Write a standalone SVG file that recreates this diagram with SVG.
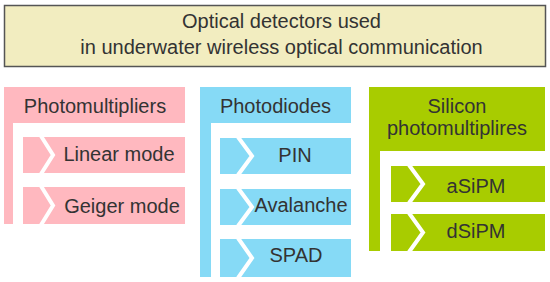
<svg xmlns="http://www.w3.org/2000/svg" width="550" height="282" viewBox="0 0 550 282">
<style>
text{font-family:"Liberation Sans",Arial,sans-serif;font-size:20px;fill:#333;text-anchor:middle}
.pk{fill:#ffb8bf}.bl{fill:#86daf6}.gr{fill:#a8cc00}
.chev{fill:none;stroke:#fff;stroke-width:4}
</style>
<rect width="550" height="282" fill="#fff"/>
<g id="title">
<rect x="4.5" y="5.5" width="541" height="61" fill="#f2edc0" stroke="#555" stroke-width="1.5"/>
<text x="281.5" y="28">Optical detectors used</text>
<text x="281.5" y="53.5">in underwater wireless optical communication</text>
</g>
<g id="photomultipliers">
<path class="pk" d="M4,87H185V123H13V224H4Z"/>
<text x="95" y="113">Photomultipliers</text>
</g>
<g id="linear-mode">
<rect class="pk" x="23" y="137" width="162" height="36"/>
<polyline class="chev" points="41,136 53,155 41,174"/>
<text x="119" y="161">Linear mode</text>
</g>
<g id="geiger-mode">
<rect class="pk" x="23" y="187" width="162" height="37"/>
<polyline class="chev" points="41,186 53,205.5 41,225"/>
<text x="122" y="213">Geiger mode</text>
</g>
<g id="photodiodes">
<path class="bl" d="M200,87H351V123H211V277H200Z"/>
<text x="275.5" y="113">Photodiodes</text>
</g>
<g id="pin">
<rect class="bl" x="220" y="138" width="131" height="36"/>
<polyline class="chev" points="238,137 252,156 238,175"/>
<text x="295" y="162">PIN</text>
</g>
<g id="avalanche">
<rect class="bl" x="220" y="189" width="131" height="36"/>
<polyline class="chev" points="238,188 252,207 238,226"/>
<text x="301" y="212">Avalanche</text>
</g>
<g id="spad">
<rect class="bl" x="220" y="239" width="131" height="38"/>
<polyline class="chev" points="238,238 252,258 238,278"/>
<text x="296" y="262">SPAD</text>
</g>
<g id="silicon-photomultipliers">
<path class="gr" d="M369,87H545V151H380V251H369Z"/>
<text x="457" y="113">Silicon</text>
<text x="457" y="135">photomultiplires</text>
</g>
<g id="asipm">
<rect class="gr" x="391" y="166" width="154" height="36"/>
<polyline class="chev" points="409,165 423,184 409,203"/>
<text x="476" y="193">aSiPM</text>
</g>
<g id="dsipm">
<rect class="gr" x="391" y="214" width="154" height="37"/>
<polyline class="chev" points="409,213 423,232.5 409,252"/>
<text x="476" y="238">dSiPM</text>
</g>
<g id="connectors"/>
</svg>
